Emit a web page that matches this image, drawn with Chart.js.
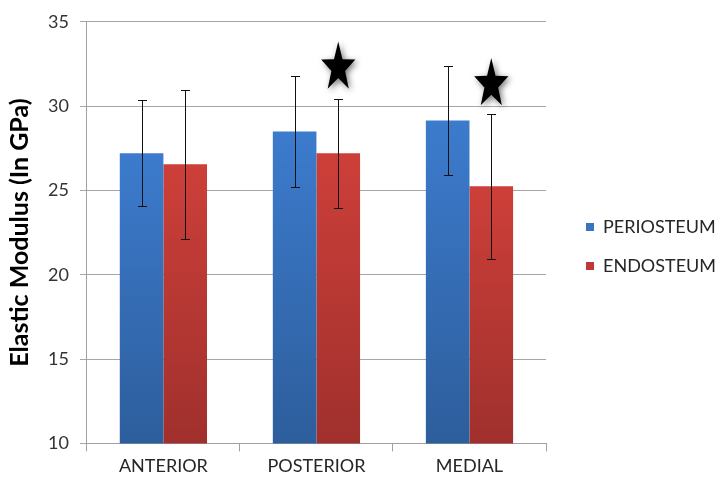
<!DOCTYPE html>
<html>
<head>
<meta charset="utf-8">
<script src="https://cdn.jsdelivr.net/npm/chart.js@4.4.0/dist/chart.umd.min.js"></script>
<style>
body { margin: 0; background: #fff; }
#wrap { width: 715px; height: 481px; }
</style>
</head>
<body>
<div id="wrap"><canvas id="modulusChart" width="715" height="481"></canvas></div>
<script>
// values (GPa)
var categories = ["ANTERIOR", "POSTERIOR", "MEDIAL"];
var periosteum = [27.2, 28.5, 29.15];
var periosteumSd = [3.15, 3.3, 3.23];
var endosteum = [26.55, 27.2, 25.25];
var endosteumSd = [4.4, 3.23, 4.3];
// star markers (significance) drawn over the endosteum bars
var starLevel = [null, 32.28, 31.3];
var yTicks = [10, 15, 20, 25, 30, 35];

var FONT = "Lato, 'Open Sans', sans-serif";

function barGradient(top, bottom) {
    return function(ctx) {
        var chart = ctx.chart;
        var y = chart.scales.y;
        if (!y || !ctx.parsed) return top;
        var y0 = y.getPixelForValue(ctx.parsed.y);
        var y1 = y.bottom;
        if (!isFinite(y0) || !isFinite(y1) || y0 == y1) return top;
        var g = chart.ctx.createLinearGradient(0, y0, 0, y1);
        g.addColorStop(0, top);
        g.addColorStop(1, bottom);
        return g;
    };
}

// error bars for each bar, from the sd arrays
var errorBars = {
    id: "errorBars",
    afterDatasetsDraw: function(chart) {
        var c = chart.ctx;
        var y = chart.scales.y;
        c.save();
        c.strokeStyle = "#111";
        c.lineWidth = 1;
        chart.data.datasets.forEach(function(ds, di) {
            if (!ds.sd) return;
            var meta = chart.getDatasetMeta(di);
            meta.data.forEach(function(bar, i) {
                var x = Math.round(bar.x) + 0.5;
                var hi = Math.round(y.getPixelForValue(ds.data[i] + ds.sd[i])) + 0.5;
                var lo = Math.round(y.getPixelForValue(ds.data[i] - ds.sd[i])) + 0.5;
                c.beginPath();
                c.moveTo(x, hi); c.lineTo(x, lo);
                c.moveTo(x - 4.5, hi); c.lineTo(x + 4.5, hi);
                c.moveTo(x - 4.5, lo); c.lineTo(x + 4.5, lo);
                c.stroke();
            });
        });
        c.restore();
    }
};

// filled stars with a soft shadow
var stars = {
    id: "stars",
    afterDatasetsDraw: function(chart) {
        var c = chart.ctx;
        var y = chart.scales.y;
        var meta = chart.getDatasetMeta(1);
        for (var i = 0; i < starLevel.length; i++) {
            if (starLevel[i] == null) continue;
            var cx = meta.data[i].x;
            var cy = y.getPixelForValue(starLevel[i]);
            var R = 18, r = 7.2;
            c.save();
            c.translate(cx, cy);
            c.scale(1, 1.45);
            c.shadowColor = "rgba(0,0,0,0.55)";
            c.shadowBlur = 6;
            c.shadowOffsetX = 2;
            c.shadowOffsetY = 2;
            c.beginPath();
            for (var k = 0; k < 10; k++) {
                var rad = (k % 2 == 0) ? R : r;
                var a = -Math.PI / 2 + k * Math.PI / 5;
                if (k == 0) c.moveTo(rad * Math.cos(a), rad * Math.sin(a));
                else c.lineTo(rad * Math.cos(a), rad * Math.sin(a));
            }
            c.closePath();
            c.fillStyle = "#000";
            c.fill();
            c.restore();
        }
    }
};

// legend on the right
var sideLegend = {
    id: "sideLegend",
    afterDraw: function(chart) {
        var c = chart.ctx;
        c.save();
        c.font = "18px " + FONT;
        c.textBaseline = "middle";
        chart.data.datasets.forEach(function(ds, i) {
            var yy = 227 + i * 39;
            c.fillStyle = ds.legendColor;
            c.fillRect(586, yy - 4, 8, 8);
            c.fillStyle = "#262626";
            c.fillText(ds.label, 603, yy);
        });
        c.restore();
    }
};

var data = {
    labels: categories,
    datasets: [{
        label: "PERIOSTEUM",
        data: periosteum,
        sd: periosteumSd,
        legendColor: "#3a73c0",
        backgroundColor: barGradient("#3c7bcd", "#2d5e9c")
    },
    {
        label: "ENDOSTEUM",
        data: endosteum,
        sd: endosteumSd,
        legendColor: "#c0393a",
        backgroundColor: barGradient("#cd3f39", "#a0302d")
    }]
};

var options = {
    responsive: false,
    animation: false,
    layout: { padding: { top: 10, left: 5, right: 169, bottom: 0 } },
    datasets: { bar: { categoryPercentage: 0.57, barPercentage: 1.0 } },
    plugins: {
        legend: { display: false },
        tooltip: { enabled: false }
    },
    scales: {
        x: {
            grid: { drawOnChartArea: false, color: "#a0a0a0", tickLength: 8, offset: true },
            border: { color: "#a0a0a0" },
            ticks: { color: "#262626", font: { family: FONT, size: 18 }, padding: 4 }
        },
        y: {
            min: 10,
            max: 35,
            afterBuildTicks: function(scale) {
                scale.ticks = yTicks.map(function(v) { return { value: v }; });
            },
            grid: { color: "#a6a6a6", tickLength: 7 },
            border: { color: "#a0a0a0" },
            ticks: { color: "#333", font: { family: FONT, size: 18 }, padding: 11 },
            title: {
                display: true,
                text: "Elastic Modulus (In GPa)",
                color: "#000",
                font: { family: FONT, size: 25, weight: "bold" },
                padding: { top: 0, bottom: 2 }
            }
        }
    }
};

var ctx = document.getElementById("modulusChart");
var chart = new Chart(ctx, {
    type: "bar",
    data: data,
    options: options,
    plugins: [errorBars, stars, sideLegend]
});
</script>
</body>
</html>
